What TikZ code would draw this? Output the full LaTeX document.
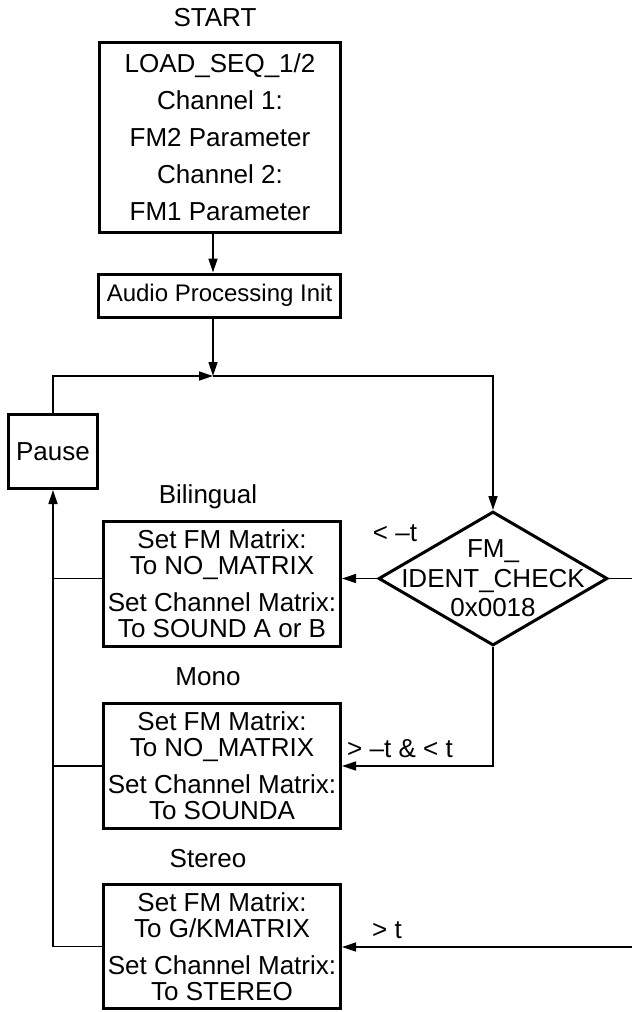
\documentclass[tikz,border=0pt]{standalone}
\usepackage{fontspec}
\setmainfont{Liberation Sans}
\usetikzlibrary{shapes.geometric,arrows.meta}
\begin{document}
\begin{tikzpicture}[x=1pt,y=-1pt,
  box/.style={draw,line width=3pt,inner sep=0pt,align=center,font=\fontsize{26}{26}\selectfont},
  lbl/.style={inner sep=0pt,font=\fontsize{26}{26}\selectfont},
  conn/.style={line width=1.4pt},
  arr/.style={conn,-{Triangle[length=14pt,width=9pt]}}]
\useasboundingbox (0,0) rectangle (632,1012);

\node[lbl] (start) at (215,18) {START};
\node[box, minimum width=241pt, minimum height=190pt, font=\fontsize{26}{37}\selectfont] (load) at (220,137)
  {LOAD\_SEQ\_1/2\\Channel 1:\\FM2 Parameter\\Channel 2:\\FM1 Parameter};
\node[box, minimum width=242pt, minimum height=43pt, font=\fontsize{24}{24}\selectfont] (init) at (219.5,295.5) {Audio Processing Init};

\coordinate (j) at (213,376);
\draw[arr] ([xshift=-7pt]load.south) -- ([xshift=-7pt]load.south |- init.north);
\draw[arr] (init.south -| j) -- (j);

\node[box, minimum width=89pt, minimum height=74pt] (pause) at (53,451.5) {Pause};

\node[diamond, draw, line width=3pt, inner sep=0pt, minimum width=229pt, minimum height=134pt,
  label={[lbl,align=center,font=\fontsize{26}{29.5}\selectfont]center:FM\_\\IDENT\_CHECK\\0x0018}] (diam) at (493,578.5) {};

\node[lbl] (lbil) at (208,497) {Bilingual};
\node[box, minimum width=237pt, minimum height=125pt] (bil) at (222,584)
  {Set FM Matrix:\\To NO\_MATRIX\\[11pt]Set Channel Matrix:\\To SOUND A or B};

\node[lbl] (lmono) at (208,677) {Mono};
\node[box, minimum width=237pt, minimum height=125pt] (mono) at (222,766)
  {Set FM Matrix:\\To NO\_MATRIX\\[11pt]Set Channel Matrix:\\To SOUNDA};

\node[lbl] (lster) at (208,859) {Stereo};
\node[box, minimum width=237pt, minimum height=124pt] (ster) at (222,946.5)
  {Set FM Matrix:\\To G/KMATRIX\\[11pt]Set Channel Matrix:\\To STEREO};

% loop
\draw[arr] (pause.north) |- (j);
\draw[arr] (j) -| (diam.north);
\draw[arr] (ster.west) -- (ster.west -| pause.south) -- (pause.south);
\draw[conn] (bil.west |- diam.west) -- (diam.west -| pause.south);
\draw[conn] (mono.west) -- (mono.west -| pause.south);

% decisions
\draw[arr] (diam.west) -- (diam.west -| bil.east);
\draw[arr] (diam.south) |- (mono.east);
\coordinate (r1) at (632,578.5);
\coordinate (r2) at (632,947);
\draw[conn] (diam.east) -- (r1);
\draw[arr] (r2) -- (r2 -| ster.east);

\node[lbl] (t1) at (395,533) {< –t};
\node[lbl] (t2) at (400,749) {> –t \& < t};
\node[lbl] (t3) at (387,930) {> t};
\end{tikzpicture}
\end{document}
